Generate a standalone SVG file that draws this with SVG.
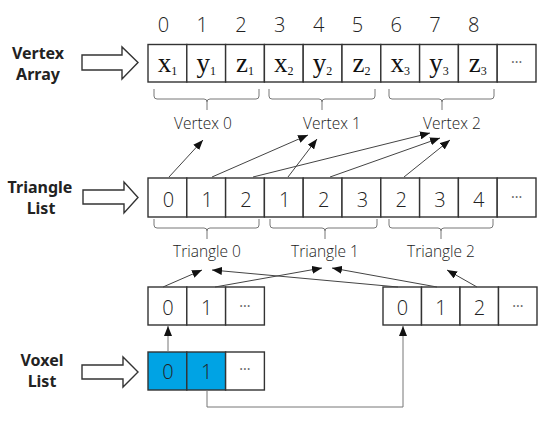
<svg xmlns="http://www.w3.org/2000/svg" width="550" height="422" viewBox="0 0 550 422">
<style>
.cell{fill:#fff;stroke:#333;stroke-width:1.4}
.blue{fill:#00a3e4;stroke:#333;stroke-width:1.4}
.idx{font-family:"Open Sans","Noto Sans","Liberation Sans",sans-serif;font-weight:300;font-size:20px;fill:#222;text-anchor:middle}
.num{font-family:"Open Sans","Noto Sans","Liberation Sans",sans-serif;font-weight:300;font-size:20px;fill:#222;text-anchor:middle}
.ser{font-family:"Liberation Serif",serif;font-size:27px;fill:#111;text-anchor:middle}
.sub{font-size:12px}
.dots{font-family:"Noto Sans","Liberation Sans",sans-serif;font-size:14px;fill:#666;text-anchor:middle}
.lab{font-family:"Open Sans","Noto Sans","Liberation Sans",sans-serif;font-weight:300;font-size:15.5px;fill:#222;text-anchor:middle}
.side{font-family:"Noto Sans","Liberation Sans",sans-serif;font-size:16px;font-weight:bold;fill:#222;text-anchor:middle}
.hollow{fill:#fff;stroke:#333;stroke-width:1.4;stroke-linejoin:miter}
.brace{fill:none;stroke:#777;stroke-width:1}
.con{fill:none;stroke:#444;stroke-width:1;marker-end:url(#ah)}
.vcon{fill:none;stroke:#777;stroke-width:1}
</style>
<defs>
<marker id="ah" markerUnits="userSpaceOnUse" markerWidth="10" markerHeight="8" refX="10" refY="4" orient="auto">
<path d="M0,0 L10,4 L0,8 z" fill="#111"/>
</marker>
</defs>

<g id="label-vertex-array">
<text class="side" x="38" y="59">Vertex</text>
<text class="side" x="38" y="80">Array</text>
<path class="hollow" d="M82,55 H122 V47 L138,62.5 L122,79 V70 H82 Z"/>
</g>
<g id="label-triangle-list">
<text class="side" x="40" y="193">Triangle</text>
<text class="side" x="41" y="214">List</text>
<path class="hollow" d="M83,190 H124 V182 L138,197.5 L124,213 V204 H83 Z"/>
</g>
<g id="label-voxel-list">
<text class="side" x="42" y="366">Voxel</text>
<text class="side" x="42" y="387">List</text>
<path class="hollow" d="M82,365 H123 V357 L138,372 L123,387 V379 H82 Z"/>
</g>

<g id="vertex-array">
<rect class="cell" x="148" y="44.5" width="38.8" height="37.5"/>
<rect class="cell" x="186.8" y="44.5" width="38.8" height="37.5"/>
<rect class="cell" x="225.6" y="44.5" width="38.8" height="37.5"/>
<rect class="cell" x="264.4" y="44.5" width="38.8" height="37.5"/>
<rect class="cell" x="303.2" y="44.5" width="38.8" height="37.5"/>
<rect class="cell" x="342" y="44.5" width="38.8" height="37.5"/>
<rect class="cell" x="380.8" y="44.5" width="38.8" height="37.5"/>
<rect class="cell" x="419.6" y="44.5" width="38.8" height="37.5"/>
<rect class="cell" x="458.4" y="44.5" width="38.8" height="37.5"/>
<rect class="cell" x="497.2" y="44.5" width="38.8" height="37.5"/>
<text class="idx" x="163.4" y="32">0</text>
<text class="idx" x="202.2" y="32">1</text>
<text class="idx" x="241" y="32">2</text>
<text class="idx" x="279.8" y="32">3</text>
<text class="idx" x="318.6" y="32">4</text>
<text class="idx" x="357.4" y="32">5</text>
<text class="idx" x="396.2" y="32">6</text>
<text class="idx" x="435" y="32">7</text>
<text class="idx" x="473.8" y="32">8</text>
<text class="ser" x="167.4" y="72">x<tspan class="sub" dy="2.5">1</tspan></text>
<text class="ser" x="206.2" y="72">y<tspan class="sub" dy="2.5">1</tspan></text>
<text class="ser" x="245" y="72">z<tspan class="sub" dy="2.5">1</tspan></text>
<text class="ser" x="283.8" y="72">x<tspan class="sub" dy="2.5">2</tspan></text>
<text class="ser" x="322.6" y="72">y<tspan class="sub" dy="2.5">2</tspan></text>
<text class="ser" x="361.4" y="72">z<tspan class="sub" dy="2.5">2</tspan></text>
<text class="ser" x="400.2" y="72">x<tspan class="sub" dy="2.5">3</tspan></text>
<text class="ser" x="439" y="72">y<tspan class="sub" dy="2.5">3</tspan></text>
<text class="ser" x="477.8" y="72">z<tspan class="sub" dy="2.5">3</tspan></text>
<text class="dots" x="516.6" y="67">···</text>
</g>

<g id="vertex-braces">
<path class="brace" d="M154,89 V96 Q154,99 157,99 H204 Q207,99 207,102 V110 M207,102 Q207,99 210,99 H256 Q259,99 259,96 V89"/>
<path class="brace" d="M269,89 V96 Q269,99 272,99 H319 Q322,99 322,102 V110 M322,102 Q322,99 325,99 H372 Q375,99 375,96 V89"/>
<path class="brace" d="M389,89 V96 Q389,99 392,99 H439 Q442,99 442,102 V110 M442,102 Q442,99 445,99 H491 Q494,99 494,96 V89"/>
<text class="lab" x="203" y="129">Vertex 0</text>
<text class="lab" x="332" y="129">Vertex 1</text>
<text class="lab" x="452" y="129">Vertex 2</text>
</g>

<g id="triangle-list">
<rect class="cell" x="148" y="178" width="38.8" height="39"/>
<rect class="cell" x="186.8" y="178" width="38.8" height="39"/>
<rect class="cell" x="225.6" y="178" width="38.8" height="39"/>
<rect class="cell" x="264.4" y="178" width="38.8" height="39"/>
<rect class="cell" x="303.2" y="178" width="38.8" height="39"/>
<rect class="cell" x="342" y="178" width="38.8" height="39"/>
<rect class="cell" x="380.8" y="178" width="38.8" height="39"/>
<rect class="cell" x="419.6" y="178" width="38.8" height="39"/>
<rect class="cell" x="458.4" y="178" width="38.8" height="39"/>
<rect class="cell" x="497.2" y="178" width="38.8" height="39"/>
<text class="num" x="168.4" y="207">0</text>
<text class="num" x="207.2" y="207">1</text>
<text class="num" x="246" y="207">2</text>
<text class="num" x="284.8" y="207">1</text>
<text class="num" x="323.6" y="207">2</text>
<text class="num" x="362.4" y="207">3</text>
<text class="num" x="401.2" y="207">2</text>
<text class="num" x="440" y="207">3</text>
<text class="num" x="478.8" y="207">4</text>
<text class="dots" x="516.6" y="202">···</text>
</g>

<g id="triangle-braces">
<path class="brace" d="M154,219 V225 Q154,228 157,228 H204 Q207,228 207,231 V239 M207,231 Q207,228 210,228 H256 Q259,228 259,225 V219"/>
<path class="brace" d="M270,219 V225 Q270,228 273,228 H322 Q325,228 325,231 V239 M325,231 Q325,228 328,228 H374 Q377,228 377,225 V219"/>
<path class="brace" d="M389,219 V225 Q389,228 392,228 H438 Q441,228 441,231 V239 M441,231 Q441,228 444,228 H490 Q493,228 493,225 V219"/>
<text class="lab" x="207" y="257">Triangle 0</text>
<text class="lab" x="325" y="257">Triangle 1</text>
<text class="lab" x="441" y="257">Triangle 2</text>
</g>

<g id="voxel-tri-list-a">
<rect class="cell" x="148" y="287" width="38.8" height="38"/>
<rect class="cell" x="186.8" y="287" width="38.8" height="38"/>
<rect class="cell" x="225.6" y="287" width="38.8" height="38"/>
<text class="num" x="168" y="315">0</text>
<text class="num" x="206.8" y="315">1</text>
<text class="dots" x="245" y="311">···</text>
</g>

<g id="voxel-tri-list-b">
<rect class="cell" x="383" y="287" width="38.5" height="38"/>
<rect class="cell" x="421.5" y="287" width="38.5" height="38"/>
<rect class="cell" x="460" y="287" width="38.5" height="38"/>
<rect class="cell" x="498.5" y="287" width="38.5" height="38"/>
<text class="num" x="402.5" y="315">0</text>
<text class="num" x="441" y="315">1</text>
<text class="num" x="479.5" y="315">2</text>
<text class="dots" x="518" y="311">···</text>
</g>

<g id="voxel-list">
<rect class="blue" x="148" y="352" width="38.8" height="38"/>
<rect class="blue" x="186.8" y="352" width="38.8" height="38"/>
<rect class="cell" x="225.6" y="352" width="38.8" height="38"/>
<text class="num" x="168" y="379" fill="#1a2733">0</text>
<text class="num" x="206.8" y="379" fill="#1a2733">1</text>
<text class="dots" x="245" y="374">···</text>
</g>

<g id="connectors">
<line class="con" x1="169" y1="177" x2="203" y2="140"/>
<line class="con" x1="212" y1="177" x2="308" y2="135"/>
<line class="con" x1="288" y1="177" x2="317" y2="139"/>
<line class="con" x1="253" y1="177" x2="430" y2="133"/>
<line class="con" x1="330" y1="177" x2="440" y2="138"/>
<line class="con" x1="404" y1="177" x2="450" y2="140"/>
<line class="con" x1="163" y1="287" x2="202" y2="270"/>
<line class="con" x1="215" y1="287" x2="322" y2="268"/>
<line class="con" x1="398" y1="287" x2="212" y2="270"/>
<line class="con" x1="437" y1="287" x2="332" y2="268"/>
<line class="con" x1="477" y1="287" x2="447" y2="270"/>
<line class="vcon" x1="168" y1="352" x2="168" y2="326" marker-end="url(#ah)"/>
<polyline class="vcon" points="207,390 207,407 403,407 403,326" marker-end="url(#ah)"/>
</g>
</svg>
